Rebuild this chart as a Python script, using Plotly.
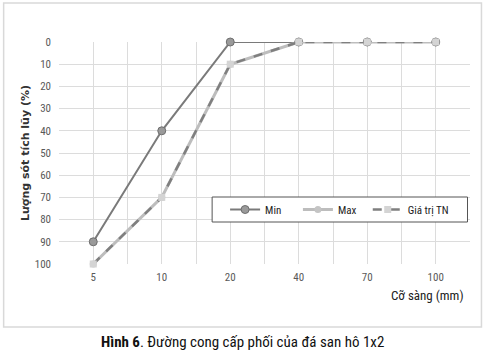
import plotly.graph_objects as go

sizes = ["5", "10", "20", "40", "70", "100"]
min_vals = [90, 40, 0, 0, 0, 0]
max_vals = [100, 70, 10, 0, 0, 0]
tn_vals = [100, 70, 10, 0, 0, 0]
y_ticks = [0, 10, 20, 30, 40, 50, 60, 70, 80, 90, 100]

xpos = list(range(len(sizes)))

W, H = 485, 354
L, R, T, B = 58.5, 470.5, 42, 264

def px(x):
    return (x - L) / (R - L)

def py(y):
    return (B - y) / (B - T)

narrow = "Liberation Sans Narrow, Arial Narrow, Roboto Condensed, sans-serif"

fig = go.Figure()
fig.add_trace(go.Scatter(
    x=xpos, y=min_vals, name="Min", mode="lines+markers", legend="legend",
    line=dict(color="#7a7a7a", width=2),
    marker=dict(symbol="circle", size=8, color="#9a9a9a", line=dict(color="#6e6e6e", width=1)),
    cliponaxis=False))
fig.add_trace(go.Scatter(
    x=xpos, y=max_vals, name="Max", mode="lines+markers", legend="legend2",
    line=dict(color="#bdbdbd", width=3),
    marker=dict(symbol="circle", size=7, color="#c4c4c4"),
    cliponaxis=False))
fig.add_trace(go.Scatter(
    x=xpos, y=tn_vals, name="Giá trị TN", mode="lines+markers", legend="legend3",
    line=dict(color="#7f7f7f", width=2.5, dash="dash"),
    marker=dict(symbol="square", size=7, color="#d4d4d4"),
    cliponaxis=False))

def leg(xpix):
    return dict(orientation="h", x=px(xpix), y=py(209.5), xanchor="left", yanchor="middle",
                borderwidth=0, bgcolor="rgba(0,0,0,0)",
                font=dict(family=narrow, size=11, color="#222222"), itemwidth=30)

fig.update_layout(
    width=W, height=H,
    margin=dict(l=L, r=W - R, t=T, b=H - B),
    paper_bgcolor="white", plot_bgcolor="white",
    showlegend=True,
    legend=leg(225), legend2=leg(298), legend3=leg(368),
    xaxis=dict(range=[-0.5, len(sizes) - 0.5], tickmode="array", tickvals=xpos, ticktext=sizes,
               showgrid=True, gridcolor="#dcdcdc", gridwidth=1,
               zeroline=False, showline=False, ticks="", ticklabelstandoff=5,
               tickfont=dict(family=narrow, size=11, color="#595959"),
               minor=dict(tickmode="linear", tick0=-0.5, dtick=1, showgrid=True,
                          gridcolor="#dcdcdc", gridwidth=1, ticks="")),
    yaxis=dict(range=[100, 0], tickmode="array", tickvals=y_ticks,
               showgrid=True, gridcolor="#dcdcdc", gridwidth=1, zeroline=False,
               showline=False, ticks="", ticklabelstandoff=7,
               tickfont=dict(family=narrow, size=11, color="#595959"),
               title=dict(text="<b>Lượng sót tích lũy (%)</b>",
                          font=dict(family="Verdana, DejaVu Sans", size=11, color="#333333"),
                          standoff=2)),
)

fig.add_shape(type="rect", xref="paper", yref="paper",
              x0=px(3), x1=px(482), y0=py(3), y1=py(327),
              line=dict(color="#d9d9d9", width=1.5), layer="below")

# legend frame
fig.add_shape(type="rect", xref="paper", yref="paper",
              x0=px(212), x1=px(468), y0=py(197), y1=py(222),
              line=dict(color="#555555", width=1), fillcolor="white", layer="above")

fig.add_annotation(text="Cỡ sàng (mm)", xref="paper", yref="paper",
                   x=px(466), y=py(295), xanchor="right", yanchor="middle",
                   showarrow=False, font=dict(family=narrow, size=13, color="#222222"))
fig.add_annotation(text="<b>Hình 6</b>. Đường cong cấp phối của đá san hô 1x2",
                   xref="paper", yref="paper", x=px(242), y=py(342),
                   xanchor="center", yanchor="middle", showarrow=False,
                   font=dict(family=narrow, size=15, color="#111111"))

fig.write_html("out.html")
